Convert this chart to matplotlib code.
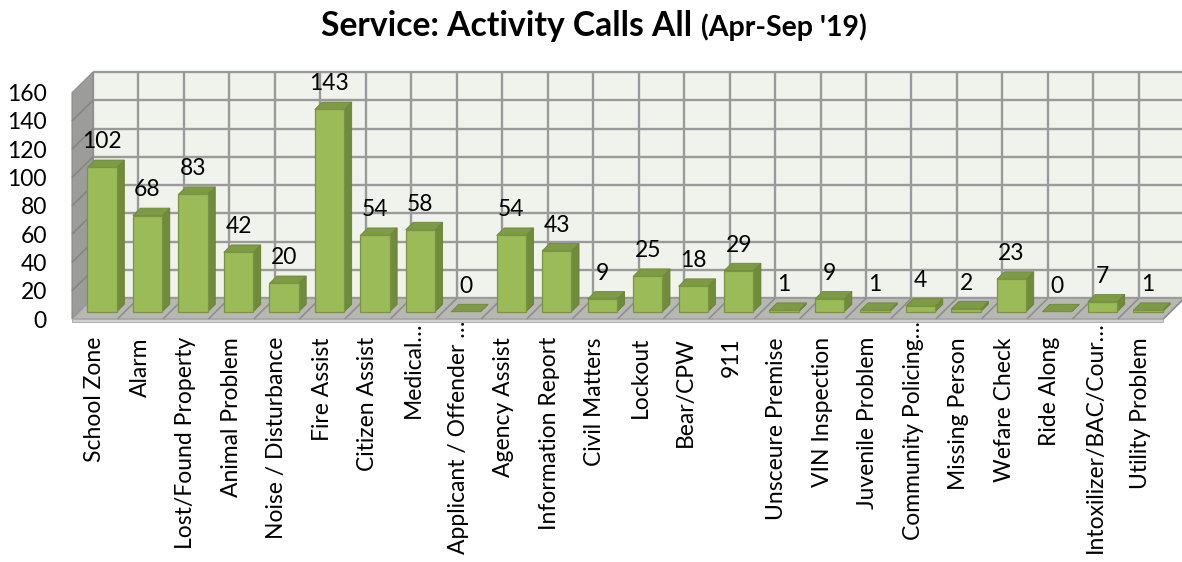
import matplotlib.pyplot as plt
from matplotlib.patches import Polygon
from matplotlib.transforms import ScaledTranslation

# ------------------------------------------------------------
# Data
# ------------------------------------------------------------

categories = [
    "School Zone", "Alarm", "Lost/Found Property", "Animal Problem",
    "Noise / Disturbance", "Fire Assist", "Citizen Assist", "Medical\u2026",
    "Applicant / Offender \u2026", "Agency Assist", "Information Report",
    "Civil Matters", "Lockout", "Bear/CPW", "911", "Unsceure Premise",
    "VIN Inspection", "Juvenile Problem", "Community Policing\u2026",
    "Missing Person", "Wefare Check", "Ride Along",
    "Intoxilizer/BAC/Cour\u2026", "Utility Problem",
]
calls = [102, 68, 83, 42, 20, 143, 54, 58, 0, 54, 43, 9, 25, 18, 29,
         1, 9, 1, 4, 2, 23, 0, 7, 1]
y_ticks = list(range(0, 161, 20))

# ------------------------------------------------------------
# Style
# ------------------------------------------------------------

FONT = "Lato"
W, H, DPI = 1182, 562, 100

DX = 0.4618      # depth offset, category units
DY = 14.635      # depth offset, value units
Z0, Z1 = 0.35, 0.71
GAP = 0.1775

FRONT = "#9bbb59"
SIDE = "#6f8b3b"
TOP = "#7d9b45"
EDGE = "#7a9444"
WALL = "#f0f2ec"
GRID = "#9a9a9a"
SIDE_WALL = "#9c9d9a"
FLOOR = "#b7b8b4"

plt.rcParams["font.family"] = [FONT, "DejaVu Sans"]

fig = plt.figure(figsize=(W / DPI, H / DPI), dpi=DPI)
fig.patch.set_facecolor("white")

# front plane: x -0.5 at 72 px, 23.5 at 1163 px; y 0 at 319 px, 160 at 92.7 px
ax = fig.add_axes([72 / W, (H - 319) / H, 1091.3 / W, 226.3 / H])
n = len(categories)
ax.set_xlim(-0.5, n - 0.5)
ax.set_ylim(0, 160)
ax.patch.set_visible(False)
for s in ax.spines.values():
    s.set_visible(False)


def poly(pts, fc, ec="none", lw=0.0, z=1):
    p = Polygon(pts, closed=True, facecolor=fc, edgecolor=ec,
                linewidth=lw, zorder=z, clip_on=False, joinstyle="miter")
    ax.add_patch(p)


def line(xs, ys, c=GRID, lw=1.7, z=2):
    ax.plot(xs, ys, color=c, lw=lw, zorder=z, clip_on=False,
            solid_capstyle="butt")


xl, xr = -0.5, n - 0.5
ymax = y_ticks[-1]

# back wall
poly([(xl + DX, DY), (xr + DX, DY), (xr + DX, ymax + DY), (xl + DX, ymax + DY)],
     WALL, z=1)
for v in y_ticks:
    line([xl + DX, xr + DX], [v + DY, v + DY])
for k in range(n + 1):
    line([k - 0.5 + DX] * 2, [DY, ymax + DY])

# left wall
poly([(xl, 0), (xl + DX, DY), (xl + DX, ymax + DY), (xl, ymax)],
     SIDE_WALL, ec="#8a8b88", lw=0.8, z=3)
for v in y_ticks[1:-1]:
    line([xl, xl + DX], [v, v + DY], c="#858683", lw=1.2, z=4)

# floor
poly([(xl, 0), (xr, 0), (xr + DX, DY), (xl + DX, DY)],
     FLOOR, ec="#9a9b98", lw=0.8, z=3)
poly([(xl, 0), (xr, 0), (xr, -2.2), (xl, -2.2)], "#cfd0cd",
     ec="#a8a9a6", lw=0.6, z=3)
for k in range(1, n + 1):
    line([k - 0.5, k - 0.5 + DX], [0, DY], c="#8e8f8c", lw=1.2, z=4)

# bars
for i, v in enumerate(calls):
    x0 = i - 0.5 + GAP
    x1 = i + 0.5 - GAP
    fx0, fx1 = x0 + Z0 * DX, x1 + Z0 * DX
    bx0, bx1 = x0 + Z1 * DX, x1 + Z1 * DX
    fy, by = Z0 * DY, Z1 * DY
    zb = 5 + i
    # side face
    poly([(fx1, fy), (bx1, by), (bx1, v + by), (fx1, v + fy)],
         SIDE, ec="#64802f", lw=0.6, z=zb)
    # top face
    poly([(fx0, v + fy), (fx1, v + fy), (bx1, v + by), (bx0, v + by)],
         TOP, ec="#6c8838", lw=0.6, z=zb)
    # front face
    if v > 0:
        poly([(fx0, fy), (fx1, fy), (fx1, v + fy), (fx0, v + fy)],
             FRONT, ec=EDGE, lw=0.9, z=zb)
    ax.annotate(str(v), xy=((fx0 + fx1) / 2, v + by), xytext=(0, 8.4),
                textcoords="offset points", ha="center", va="baseline",
                fontsize=16.5, color="black", zorder=40,
                annotation_clip=False)

# axes ticks
ax.set_yticks(y_ticks)
ax.set_yticklabels([str(t) for t in y_ticks], fontsize=16.5)
ax.tick_params(axis="y", length=0, pad=18)
ax.set_xticks(range(n))
ax.set_xticklabels(categories, rotation=90, fontsize=16.5,
                   va="top", ha="center")
ax.tick_params(axis="x", length=0, pad=13)
for lab in ax.get_xticklabels():
    if lab.get_text().endswith("\u2026"):
        lab.set_transform(lab.get_transform()
                          + ScaledTranslation(0, 16 / DPI, fig.dpi_scale_trans))

# title
fig.text(692 / W, 1 - 36 / H, "Service: Activity Calls All", ha="right",
         va="baseline", fontsize=24.2, fontweight="bold")
fig.text(701 / W, 1 - 36 / H, "(Apr-Sep '19)", ha="left",
         va="baseline", fontsize=20.5, fontweight="bold")

fig.savefig("out.png", dpi=DPI)
